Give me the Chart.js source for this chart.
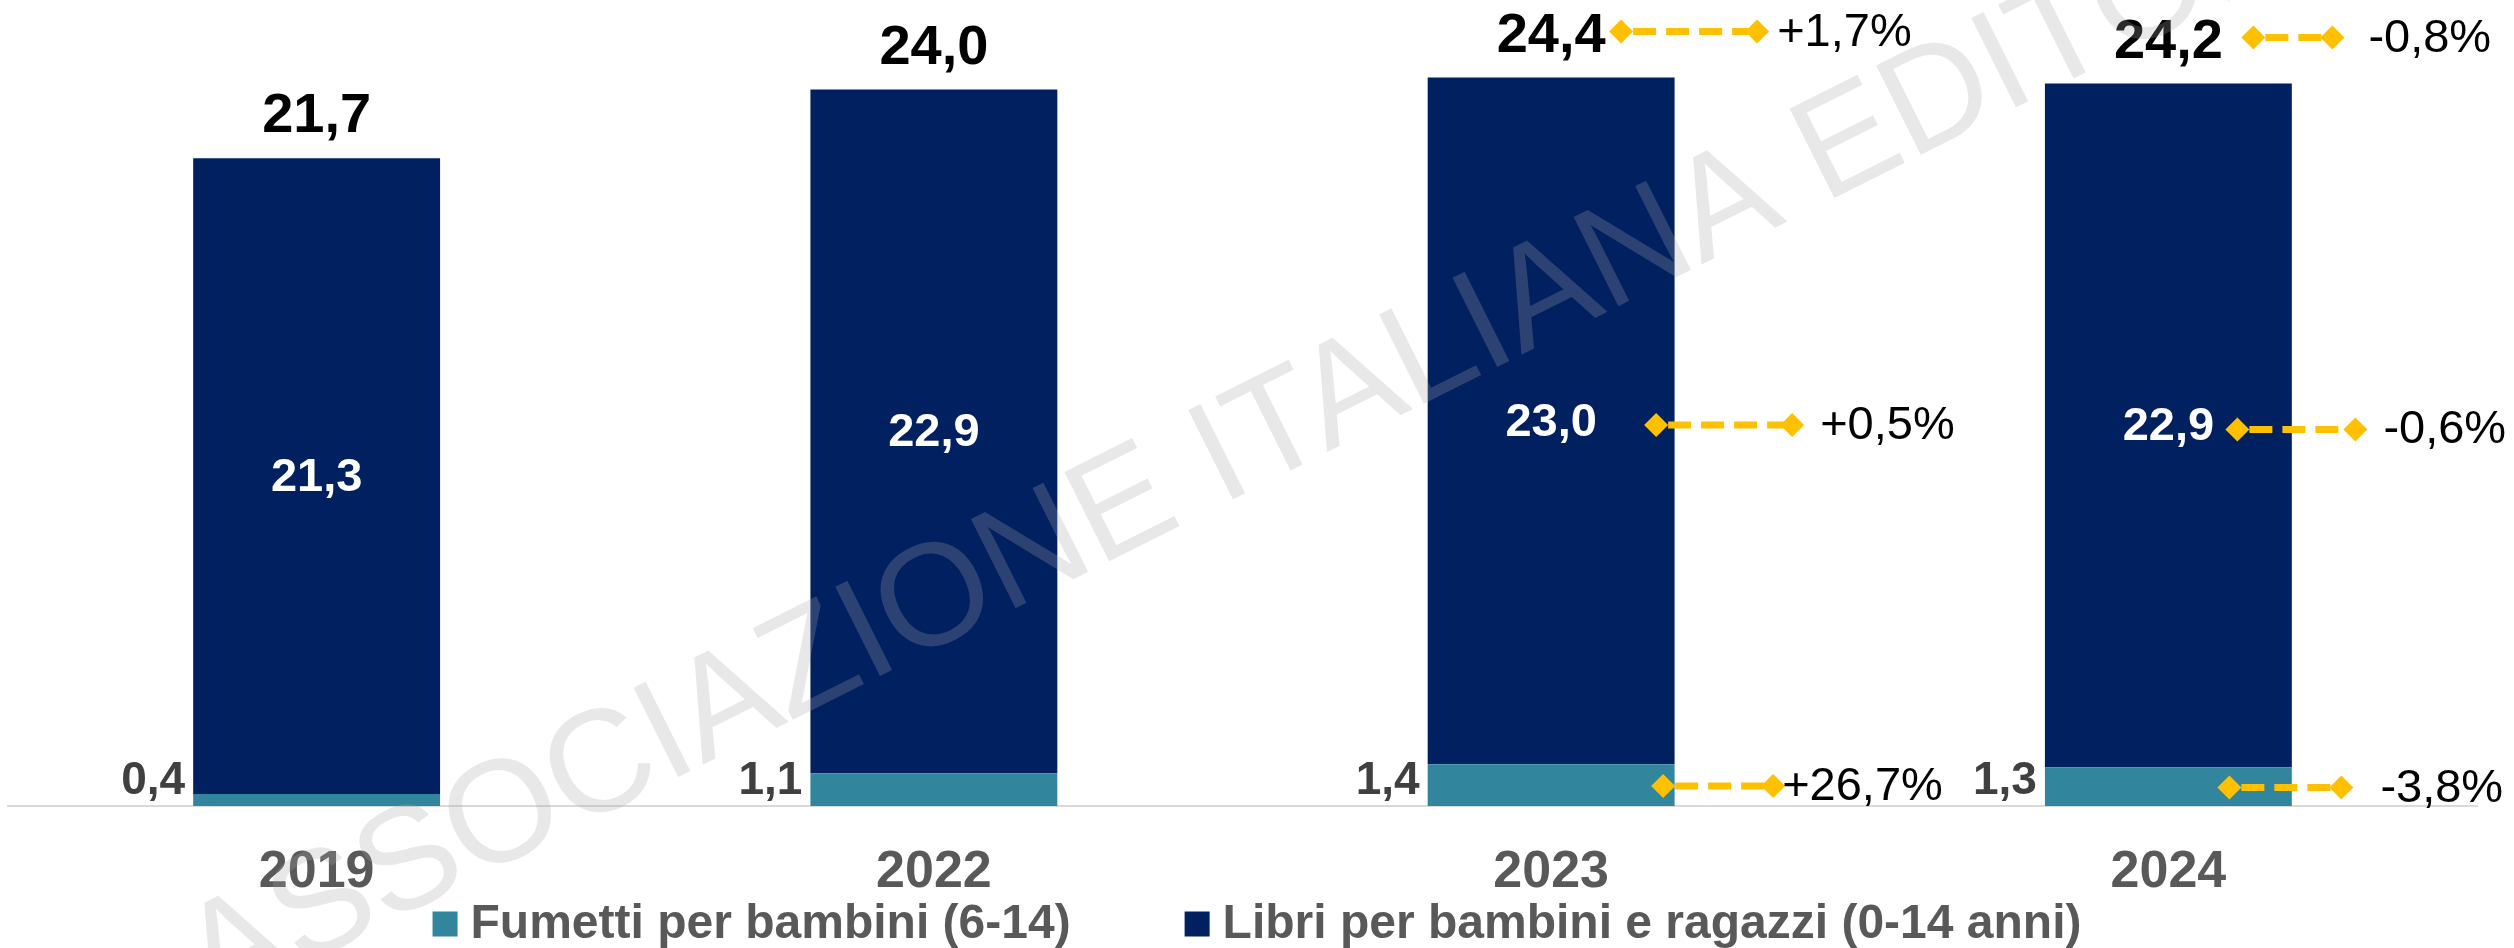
<!DOCTYPE html>
<html>
<head>
<meta charset="utf-8">
<title>Libri e fumetti per bambini</title>
<script src="https://cdn.jsdelivr.net/npm/chart.js@4.4.1/dist/chart.umd.min.js"></script>
<style>
  html, body { margin: 0; padding: 0; background: #ffffff; }
  #wrap { width: 2514px; height: 948px; }
</style>
</head>
<body>
<div id="wrap"><canvas id="kidsChart" width="2514" height="948"></canvas></div>
<script>
const years = ["2019", "2022", "2023", "2024"];
const fumetti = [0.4, 1.1, 1.4, 1.3];
const libri = [21.3, 22.9, 23.0, 22.9];
const totals = [21.7, 24.0, 24.4, 24.2];
const varTotal = [null, null, "+1,7%", "-0,8%"];
const varLibri = [null, null, "+0,5%", "-0,6%"];
const varFumetti = [null, null, "+26,7%", "-3,8%"];
const seriesNames = ["Fumetti per bambini (6-14)", "Libri per bambini e ragazzi (0-14 anni)"];

// hand placed arrows, like in the original: [left diamond, right diamond, text] from bar centre
const arrowPlace = {
    total:   [null, null, [70, 206, 226], [85, 164, 200]],
    libri:   [null, null, [105, 241, 269], [69, 187, 215]],
    fumetti: [null, null, [112, 222, 231], [61, 173, 212]]
};

const FONT = "'Liberation Sans', Arial, sans-serif";
const NAVY = "#002060";
const TEAL = "#31859C";
const GOLD = "#FFC000";

function fmt(v) {
    return v.toFixed(1).replace(".", ",");
}

function diamond(ctx, x, y, r) {
    ctx.beginPath();
    ctx.moveTo(x - r, y);
    ctx.lineTo(x, y - r);
    ctx.lineTo(x + r, y);
    ctx.lineTo(x, y + r);
    ctx.closePath();
    ctx.fill();
}

function drawArrow(ctx, cx, y, place, text) {
    const x1 = cx + place[0];
    const x2 = cx + place[1];
    ctx.save();
    ctx.strokeStyle = GOLD;
    ctx.fillStyle = GOLD;
    ctx.lineWidth = 7;
    ctx.setLineDash([23, 10]);
    ctx.lineDashOffset = -12;
    ctx.beginPath();
    ctx.moveTo(x1, y);
    ctx.lineTo(x2, y);
    ctx.stroke();
    ctx.setLineDash([]);
    diamond(ctx, x1, y, 12);
    diamond(ctx, x2, y, 12);
    ctx.fillStyle = "#000000";
    ctx.font = "47px " + FONT;
    ctx.textAlign = "left";
    ctx.textBaseline = "middle";
    ctx.fillText(text, cx + place[2], y + 1);
    ctx.restore();
}

const barLabels = {
    id: "barLabels",
    afterDatasetsDraw(chart) {
        const ctx = chart.ctx;
        const yScale = chart.scales.y;
        const lowMeta = chart.getDatasetMeta(0);
        const highMeta = chart.getDatasetMeta(1);
        ctx.save();
        highMeta.data.forEach((bar, i) => {
            const hi = bar.getProps(["x", "y", "base", "width"], true);
            const lo = lowMeta.data[i].getProps(["x", "y", "base", "width"], true);
            const midHi = (hi.y + hi.base) / 2;
            const midLo = (lo.y + lo.base) / 2;
            const topY = yScale.getPixelForValue(totals[i]);

            // value inside the big bar
            ctx.fillStyle = "#ffffff";
            ctx.font = "bold 47px " + FONT;
            ctx.textAlign = "center";
            ctx.textBaseline = "middle";
            ctx.fillText(fmt(libri[i]), hi.x, midHi + 2);

            // small series, left of the bar
            ctx.fillStyle = "#404040";
            ctx.font = "bold 46px " + FONT;
            ctx.textAlign = "right";
            ctx.textBaseline = "alphabetic";
            ctx.fillText(fmt(fumetti[i]), lo.x - lo.width / 2 - 8, lo.base - 12);

            // total on top
            ctx.fillStyle = "#000000";
            ctx.font = "bold 56px " + FONT;
            ctx.textAlign = "center";
            ctx.fillText(fmt(totals[i]), hi.x, topY - 26);

            if (varTotal[i]) drawArrow(ctx, hi.x, topY - 46, arrowPlace.total[i], varTotal[i]);
            if (varLibri[i]) drawArrow(ctx, hi.x, midHi + 4, arrowPlace.libri[i], varLibri[i]);
            if (varFumetti[i]) drawArrow(ctx, hi.x, midLo + 1, arrowPlace.fumetti[i], varFumetti[i]);
        });
        ctx.restore();
    },
    afterDraw(chart) {
        const ctx = chart.ctx;
        // legend
        ctx.save();
        ctx.font = "bold 48px " + FONT;
        ctx.textBaseline = "middle";
        ctx.textAlign = "left";
        const box = 25, gapBox = 13, gapItem = 114;
        const widths = seriesNames.map(n => ctx.measureText(n).width);
        const total = widths.reduce((a, w) => a + box + gapBox + w, 0) + gapItem;
        let x = chart.width / 2 - total / 2;
        const ly = 924;
        chart.data.datasets.forEach((ds, k) => {
            ctx.fillStyle = ds.backgroundColor;
            ctx.fillRect(x, ly - box / 2, box, box);
            ctx.fillStyle = "#595959";
            ctx.fillText(seriesNames[k], x + box + gapBox, ly + 1);
            x += box + gapBox + widths[k] + gapItem;
        });
        ctx.restore();

        // watermark
        ctx.save();
        ctx.translate(1262, 440);
        ctx.rotate(-26.6 * Math.PI / 180);
        ctx.font = "145px " + FONT;
        ctx.fillStyle = "rgba(165, 165, 165, 0.26)";
        ctx.textAlign = "center";
        ctx.textBaseline = "middle";
        ctx.fillText("ASSOCIAZIONE ITALIANA EDITORI", 0, 0);
        ctx.restore();
    }
};

const canvas = document.getElementById("kidsChart");
const kidsChart = new Chart(canvas, {
    type: "bar",
    data: {
        labels: years,
        datasets: [{
            label: seriesNames[0],
            data: fumetti,
            backgroundColor: TEAL,
            barPercentage: 0.4,
            categoryPercentage: 1
        }, {
            label: seriesNames[1],
            data: libri,
            backgroundColor: NAVY,
            barPercentage: 0.4,
            categoryPercentage: 1
        }]
    },
    options: {
        responsive: false,
        animation: false,
        devicePixelRatio: 1,
        layout: {
            padding: { left: 8, right: 37, top: 0, bottom: 0 }
        },
        plugins: {
            legend: { display: false },
            tooltip: { enabled: false }
        },
        scales: {
            x: {
                stacked: true,
                grid: { display: false, drawTicks: false },
                border: { display: true, color: "#d9d9d9", width: 2 },
                ticks: {
                    color: "#595959",
                    padding: 35,
                    font: { family: FONT, size: 52, weight: "bold" }
                },
                afterFit: function (scale) {
                    scale.height = 142;
                }
            },
            y: {
                stacked: true,
                display: false,
                min: 0,
                max: 27
            }
        }
    },
    plugins: [barLabels]
});
</script>
</body>
</html>
